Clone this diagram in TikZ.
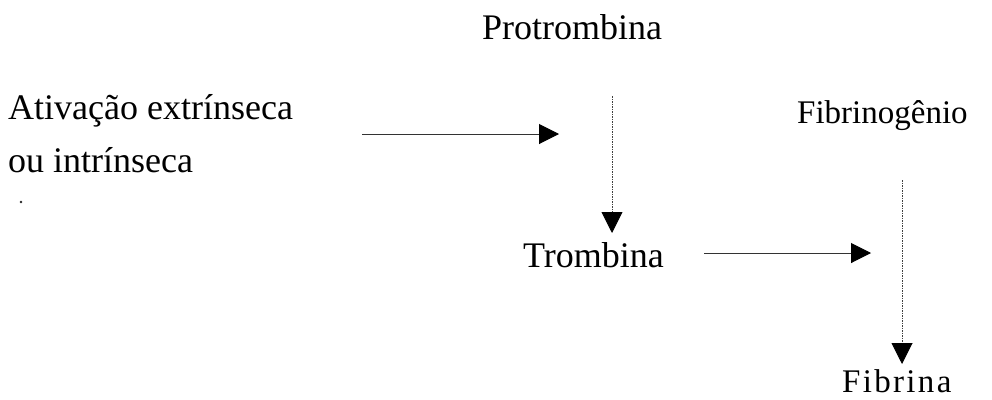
\documentclass[tikz,border=0pt]{standalone}
\usepackage{fontspec}
\setmainfont{LiberationSerif}[Extension=.ttf, UprightFont=*-Regular, BoldFont=*-Bold]
\usetikzlibrary{arrows.meta}

\tikzset{
  lbl/.style={anchor=base west, inner sep=0pt, font=\rmfamily\fontsize{36}{40}\selectfont},
  lblsmall/.style={anchor=base west, inner sep=0pt, font=\rmfamily\fontsize{33}{38}\selectfont},
  hflow/.style={draw=black!80, line width=1pt,
                -{Triangle[length=20pt,width=20pt,color=black]}},
  vflow/.style={draw=black!75, line width=0.9pt, dash pattern=on 1.6pt off 0.9pt,
                -{Triangle[length=21pt,width=21pt,color=black]}}
}

\begin{document}
\begin{tikzpicture}[x=1pt, y=-1pt]
  \useasboundingbox (0,0) rectangle (992,399);

  % substances
  \node[lbl] (protrombina) at (482,39) {Protrombina};
  \node[lbl] (ativ1) at (8,119) {Ativação extrínseca};
  \node[lbl] (ativ2) at (8,172) {ou intrínseca};
  \node[lbl] (trombina) at (523,267) {Trombina};
  \node[lblsmall] (fibrinogenio) at (797,123) {Fibrinogênio};
  \node[lblsmall, text depth=0pt] (fibrina) at (842,392) {\addfontfeature{LetterSpace=7}Fibrina};

  % arrow end points
  \coordinate (a1s) at (362,134);
  \coordinate (a1e) at (559,134);
  \coordinate (v1s) at (612,96);
  \coordinate (v1e) at (612,233);
  \coordinate (a2s) at (704,253);
  \coordinate (a2e) at (871,253);
  \coordinate (v2s) at (902,180);
  \coordinate (v2e) at (902,364);

  % activation feeding the prothrombin step
  \draw[hflow] (a1s) -- (a1e);
  % prothrombin to thrombin
  \draw[vflow] (v1s) -- (v1e);
  % thrombin acting on fibrinogen
  \draw[hflow] (a2s) -- (a2e);
  % fibrinogen to fibrin
  \draw[vflow] (v2s) -- (v2e);

  % small mark below the left label
  \fill[black!85] (21,202) circle (1.3pt);
\end{tikzpicture}
\end{document}
